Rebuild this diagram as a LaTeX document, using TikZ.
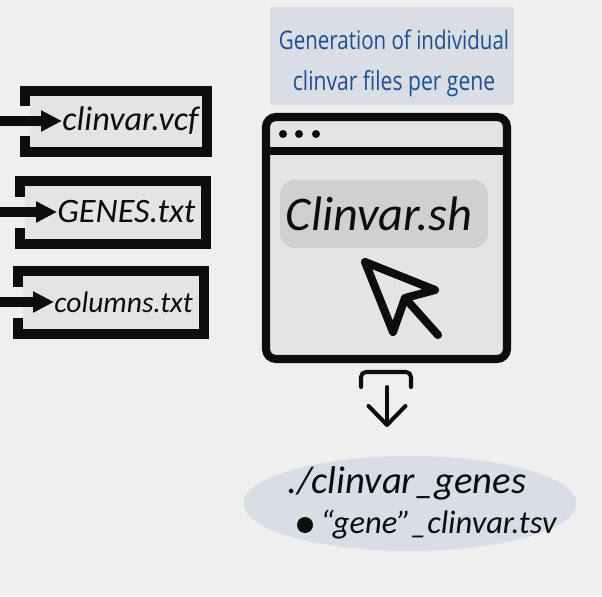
\documentclass[tikz,border=0pt]{standalone}
\usepackage{fontspec}
\setmainfont{Carlito}
\newfontfamily\headfont[FakeStretch=0.8]{Open Sans}
\usetikzlibrary{arrows.meta}
\definecolor{pagebg}{HTML}{EFEFEF}
\definecolor{panelbg}{HTML}{D9DEE6}
\definecolor{boxbg}{HTML}{E4E4E7}
\definecolor{blobbg}{HTML}{D0D0D0}
\definecolor{inkblack}{HTML}{0D0D0D}
\definecolor{headblue}{HTML}{1F4E8C}
\tikzset{
  filebox/.style={inkblack, line width=5.7pt, line join=miter},
  filefill/.style={fill=boxbg},
  filename/.style={anchor=west, inner sep=0pt, font=\itshape\fontsize{19.5}{22}\selectfont, text=inkblack},
  filearrow/.style={inkblack, line width=5.2pt, -{Triangle[length=0.42cm,width=0.4cm]}},
  windowline/.style={inkblack, line width=4.6pt},
  headtext/.style={font=\headfont\fontsize{14.6}{18}\selectfont, text=headblue},
  outtext/.style={font=\itshape\fontsize{18.5}{20}\selectfont, text=inkblack},
  thinline/.style={inkblack, line width=2.3pt, line cap=round}
}
\begin{document}
\begin{tikzpicture}[scale=1]
\useasboundingbox (0,0) rectangle (12.04,11.92);
\fill[pagebg] (0,0) rectangle (12.04,11.92);

\fill[filefill] (0.6,8.98) rectangle (4.04,10);
\fill[filefill] (0.5,7.14) rectangle (4.02,8.2);
\fill[filefill] (0.46,5.34) rectangle (3.98,6.4);
\draw[filebox] (0.5,9.8)--(0.5,10.1)--(4.14,10.1)--(4.14,8.88)--(0.5,8.88)--(0.5,9.2);
\draw[filebox] (0.4,7.98)--(0.4,8.3)--(4.12,8.3)--(4.12,7.04)--(0.4,7.04)--(0.4,7.36);
\draw[filebox] (0.36,6.18)--(0.36,6.5)--(4.08,6.5)--(4.08,5.24)--(0.36,5.24)--(0.36,5.56);

\node[filename] (vcf) at (1.24,9.5) {clinvar.vcf};
\node[filename] (genes) at (1.14,7.68) {GENES.txt};
\node[filename, font=\itshape\fontsize{16.8}{20}\selectfont] (columns) at (1.08,5.88) {columns.txt};
\coordinate (vcfin) at (0,9.5);
\coordinate (genesin) at (0,7.68);
\coordinate (columnsin) at (0,5.88);
\draw[filearrow] (vcfin)--(vcf.west);
\draw[filearrow] (genesin)--(genes.west);
\draw[filearrow] (columnsin)--(columns.west);

\fill[panelbg] (5.4,9.82) rectangle (10.28,11.78);
\node[headtext] (title) at (7.88,11.12) {Generation of individual};
\node[headtext, font=\headfont\fontsize{15}{18}\selectfont] (subtitle) at (7.88,10.24) {clinvar files per gene};

\draw[windowline, fill=boxbg, rounded corners=0.2cm] (5.32,4.74) rectangle (10.14,9.58);
\draw[windowline] (5.32,8.9)--(10.14,8.9);
\fill[inkblack] (5.66,9.24) circle (0.08);
\fill[inkblack] (5.98,9.24) circle (0.08);
\fill[inkblack] (6.32,9.24) circle (0.08);
\fill[blobbg, rounded corners=0.3cm] (5.6,6.96) rectangle (9.76,8.32);
\node[font=\itshape\fontsize{27.5}{30}\selectfont, text=inkblack] (script) at (7.58,7.64) {Clinvar.sh};

\draw[windowline, line join=round, line cap=round] (7.3,6.68)--(8.7,6.12)--(8.1,5.96)--(7.86,5.28)--cycle;
\draw[windowline, line cap=round] (8.1,5.96)--(8.76,5.22);

\draw[thinline, rounded corners=0.1cm] (7.22,4.18)--(7.22,4.48)--(8.22,4.48)--(8.22,4.18);
\coordinate (dropstart) at (7.74,4.18);
\coordinate (dropend) at (7.74,3.38);
\draw[thinline, -{Straight Barb[length=0.38cm,width=0.74cm,round]}] (dropstart)--(dropend);

\fill[panelbg] (8.2,1.85) ellipse (3.33 and 0.95);
\node[outtext, font=\itshape\fontsize{22}{24}\selectfont] (folder) at (8.14,2.26) {./clinvar\_genes};
\node[circle, fill=inkblack, inner sep=0pt, minimum size=0.32cm] (bullet) at (6.1,1.42) {};
\node[outtext, anchor=west, inner sep=0pt] (output) at (6.4,1.42) {“gene”\_clinvar.tsv};

\end{tikzpicture}
\end{document}
